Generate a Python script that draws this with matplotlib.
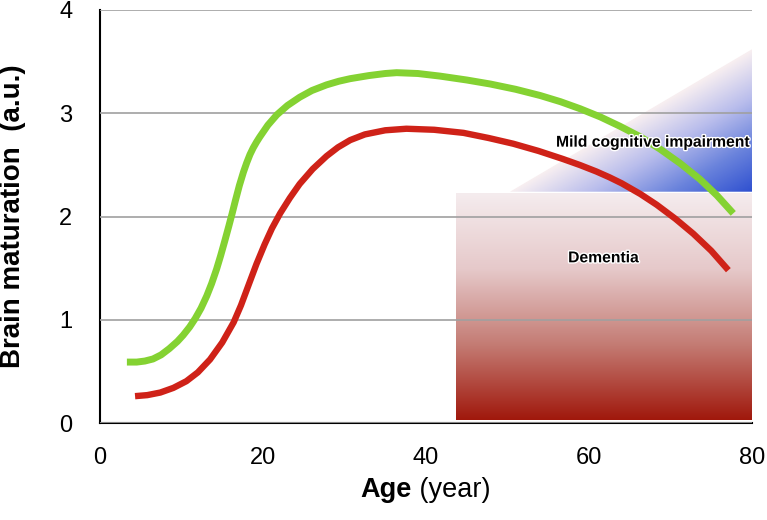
import numpy as np
import matplotlib
matplotlib.use("Agg")
import matplotlib.pyplot as plt
import matplotlib.patheffects as pe
from matplotlib.colors import LinearSegmentedColormap
from matplotlib.patches import Polygon

plt.rcParams['font.family'] = ['Liberation Sans', 'DejaVu Sans']

# values
green_age = [3.3, 4.5, 5.5, 6.5, 7.5, 8.5, 9.5, 10.2, 11.0, 11.7, 12.4, 13.1, 13.7, 14.3,
             14.8, 15.3, 15.8, 16.2, 16.6, 17.1, 17.6, 18.0, 18.4, 18.8, 19.2, 19.6, 20.6,
             21.7, 23.0, 24.5, 26.0, 27.8, 29.3, 30.7, 33.0, 35.0, 36.4, 39.0, 41.7, 45.0,
             47.9, 51.0, 54.0, 56.5, 58.9, 61.4, 63.8, 66.3, 68.7, 71.2, 73.6, 75.7, 77.7]
green_val = [0.59, 0.59, 0.60, 0.62, 0.66, 0.72, 0.79, 0.85, 0.93, 1.014, 1.112, 1.231, 1.351, 1.489,
             1.62, 1.76, 1.905, 2.025, 2.15, 2.30, 2.43, 2.52, 2.60, 2.665, 2.72, 2.77, 2.885,
             2.985, 3.075, 3.155, 3.22, 3.275, 3.31, 3.335, 3.365, 3.385, 3.393, 3.385, 3.36, 3.322,
             3.283, 3.232, 3.172, 3.112, 3.044, 2.964, 2.874, 2.772, 2.654, 2.514, 2.362, 2.204, 2.03]

red_age = [4.3, 5.8, 7.4, 9.0, 10.6, 12.0, 13.5, 15.0, 16.4, 17.3, 18.2, 19.2, 20.2, 21.1,
           22.1, 23.3, 24.5, 26.1, 27.8, 29.2, 30.7, 32.5, 35.0, 37.6, 41.0, 44.6, 47.7,
           50.7, 53.8, 56.8, 58.9, 60.9, 62.5, 64.0, 66.3, 68.3, 70.6, 72.8, 75.0, 77.1]
red_val = [0.26, 0.27, 0.295, 0.34, 0.405, 0.49, 0.615, 0.78, 0.975, 1.14, 1.33, 1.54, 1.73, 1.885,
           2.03, 2.18, 2.315, 2.46, 2.585, 2.67, 2.74, 2.795, 2.835, 2.85, 2.84, 2.81, 2.76,
           2.705, 2.635, 2.557, 2.498, 2.436, 2.38, 2.322, 2.218, 2.114, 1.978, 1.833, 1.668, 1.48]

# shaded zones
dementia_x = [43.7, 80]
dementia_y = [0.03, 2.22]
mci_x = [50.3, 80, 80]
mci_y = [2.24, 3.62, 2.24]

x_ticks = [0, 20, 40, 60, 80]
y_ticks = [0, 1, 2, 3, 4]

fig = plt.figure(figsize=(7.67, 5.2), dpi=100)
ax = fig.add_axes([100 / 767, 97 / 520, 652 / 767, 413 / 520])

# dementia block, vertical gradient
dem_cmap = LinearSegmentedColormap.from_list('dem', ['#a0180c', '#c47c74', '#e6c9ca', '#f5ecee'])
grad = np.linspace(0, 1, 256).reshape(-1, 1)
ax.imshow(grad, extent=[dementia_x[0], dementia_x[1], dementia_y[0], dementia_y[1]],
          origin='lower', cmap=dem_cmap, aspect='auto', zorder=1, interpolation='bilinear')

# mild cognitive impairment wedge, gradient towards bottom-right corner
mci_cmap = LinearSegmentedColormap.from_list('mci', ['#f8eff1', '#b9bdec', '#6a83dc', '#2f50d0'])
gx, gy = np.meshgrid(np.linspace(mci_x[0], mci_x[1], 300), np.linspace(mci_y[0], mci_y[1], 150))
sx, sy = 8.15, 103.0  # data -> pixel scale
dx, dy = (mci_x[1] - mci_x[0]) * sx, (mci_y[1] - mci_y[0]) * sy
nx, ny = dy, dx
norm = ((mci_x[2] - mci_x[0]) * sx * nx) / np.hypot(nx, ny)
t = (((gx - mci_x[0]) * sx * nx) - ((gy - mci_y[0]) * sy * ny)) / np.hypot(nx, ny) / norm
t = np.clip(t, 0, 1)
im = ax.imshow(t, extent=[mci_x[0], mci_x[1], mci_y[0], mci_y[1]], origin='lower',
               cmap=mci_cmap, aspect='auto', zorder=1, interpolation='bilinear')
tri = Polygon(list(zip(mci_x, mci_y)), closed=True, transform=ax.transData, facecolor='none', edgecolor='none')
ax.add_patch(tri)
im.set_clip_path(tri)

ax.plot(green_age, green_val, color='#84d232', lw=5, solid_capstyle='butt', solid_joinstyle='round', zorder=3)
ax.plot(red_age, red_val, color='#cf2218', lw=4.6, solid_capstyle='butt', solid_joinstyle='round', zorder=3)

halo = [pe.withStroke(linewidth=2, foreground='white')]
ax.text(67.9, 2.72, 'Mild cognitive impairment', fontsize=11.3, fontweight='bold',
        ha='center', va='center', zorder=4, path_effects=halo)
ax.text(61.8, 1.60, 'Dementia', fontsize=11.3, fontweight='bold',
        ha='center', va='center', zorder=4, path_effects=halo)

ax.set_xlim(0, 80)
ax.set_ylim(0, 4)
ax.set_xticks(x_ticks)
ax.set_yticks(y_ticks)
ax.tick_params(axis='both', length=0, labelsize=17)
ax.tick_params(axis='x', pad=17)
ax.tick_params(axis='y', pad=20)
ax.yaxis.grid(True, color='#a0a0a0', lw=1.2, zorder=2)
ax.set_axisbelow(False)
for s in ['top', 'right']:
    ax.spines[s].set_visible(False)
for s in ['left', 'bottom']:
    ax.spines[s].set_linewidth(1.5)
    ax.spines[s].set_color('black')

fig.text(13 / 767, 1 - 216.5 / 520, 'Brain maturation  (a.u.)', rotation=90, fontsize=20,
         fontweight='bold', ha='center', va='center')
fig.text(412 / 767, 1 - 496.7 / 520, 'Age', fontsize=19.5, fontweight='bold', ha='right', va='baseline')
fig.text(412 / 767, 1 - 496.7 / 520, ' (year)', fontsize=19.5, ha='left', va='baseline')

fig.savefig('out.png', dpi=100)
